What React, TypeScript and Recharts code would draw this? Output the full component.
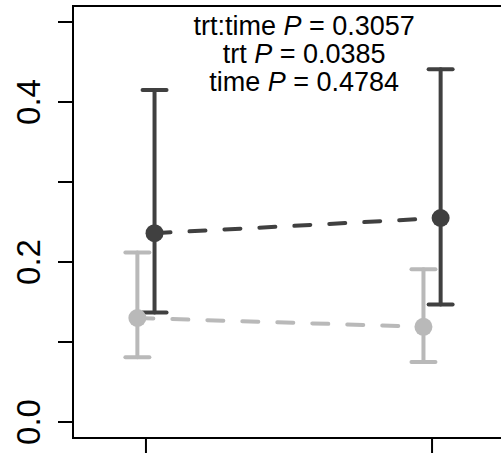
import React from "react";
import {
  ComposedChart,
  Scatter,
  ErrorBar,
  XAxis,
  YAxis,
  ReferenceArea,
  ReferenceDot,
} from "recharts";

const times = [1, 2];
const yTicks = [0, 0.1, 0.2, 0.3, 0.4, 0.5];
const yLabels = ["0.0", "", "0.2", "", "0.4", ""];

const darkMean = [0.236, 0.255];
const darkLow = [0.137, 0.147];
const darkHigh = [0.415, 0.441];

const lightMean = [0.130, 0.119];
const lightLow = [0.081, 0.075];
const lightHigh = [0.212, 0.191];

const stats = [
  { name: "trt:time", p: "0.3057" },
  { name: "trt", p: "0.0385" },
  { name: "time", p: "0.4784" },
];

const DARK = "#404040";
const LIGHT = "#b9b9b9";
const FONT = '"Liberation Sans", Arial, sans-serif';

function buildSeries(mean: number[], low: number[], high: number[], shift: number) {
  return times.map((t, i) => ({
    x: t + shift,
    y: mean[i],
    err: [mean[i] - low[i], high[i] - mean[i]],
  }));
}

const darkData = buildSeries(darkMean, darkLow, darkHigh, 0.03);
const lightData = buildSeries(lightMean, lightLow, lightHigh, -0.03);

function dot(color: string) {
  return (props: any) => <circle cx={props.cx} cy={props.cy} r={9} fill={color} />;
}

function YTick(props: any) {
  const { y, index } = props;
  const label = yLabels[index];
  if (!label) return null;
  return (
    <text
      transform={`translate(40, ${y}) rotate(-90)`}
      textAnchor="middle"
      fontSize={33}
      fontFamily={FONT}
      fill="#000"
    >
      {label}
    </text>
  );
}

function StatsLabel(props: any) {
  const vb = props.viewBox || {};
  const cx = vb.x + (vb.width || 0) / 2;
  const cy = vb.y + (vb.height || 0) / 2;
  return (
    <g>
      {stats.map((s, i) => (
        <text
          key={s.name}
          x={cx}
          y={cy + 13 + i * 28}
          textAnchor="middle"
          fontSize={27}
          fontFamily={FONT}
          fill="#000"
        >
          {s.name + " "}
          <tspan fontStyle="italic">P</tspan>
          {" = " + s.p}
        </text>
      ))}
    </g>
  );
}

export default function App() {
  return (
    <div
      style={{
        position: "absolute",
        left: 0,
        top: 0,
        width: 501,
        height: 453,
        overflow: "hidden",
        background: "#fff",
      }}
    >
      <ComposedChart
        width={520}
        height={470}
        margin={{ top: 6, right: 15, bottom: 0, left: 0 }}
      >
        <XAxis
          type="number"
          dataKey="x"
          domain={[0.745, 2.255]}
          ticks={times}
          tickSize={15}
          tickLine={{ stroke: "#000", strokeWidth: 2 }}
          axisLine={false}
          tickFormatter={() => ""}
          height={32}
          allowDataOverflow
        />
        <YAxis
          type="number"
          dataKey="y"
          domain={[-0.02, 0.52]}
          ticks={yTicks}
          tickSize={15}
          tickLine={{ stroke: "#000", strokeWidth: 2 }}
          axisLine={false}
          tick={<YTick />}
          width={73}
          allowDataOverflow
        />
        <ReferenceArea
          x1={0.745}
          x2={2.255}
          y1={-0.02}
          y2={0.52}
          fill="none"
          stroke="#000"
          strokeWidth={2}
          ifOverflow="visible"
        />
        <Scatter
          data={lightData}
          fill={LIGHT}
          shape={dot(LIGHT)}
          line={{ stroke: LIGHT, strokeWidth: 4, strokeDasharray: "16 19", strokeLinecap: "round" }}
          isAnimationActive={false}
        >
          <ErrorBar
            dataKey="err"
            direction="y"
            width={12}
            stroke={LIGHT}
            strokeWidth={4}
            strokeLinecap="round"
            isAnimationActive={false}
          />
        </Scatter>
        <Scatter
          data={darkData}
          fill={DARK}
          shape={dot(DARK)}
          line={{ stroke: DARK, strokeWidth: 4, strokeDasharray: "16 19", strokeLinecap: "round" }}
          isAnimationActive={false}
        >
          <ErrorBar
            dataKey="err"
            direction="y"
            width={12}
            stroke={DARK}
            strokeWidth={4}
            strokeLinecap="round"
            isAnimationActive={false}
          />
        </Scatter>
        <ReferenceDot
          x={1.553}
          y={0.5}
          r={0}
          fill="none"
          stroke="none"
          ifOverflow="visible"
          label={<StatsLabel />}
        />
      </ComposedChart>
    </div>
  );
}
